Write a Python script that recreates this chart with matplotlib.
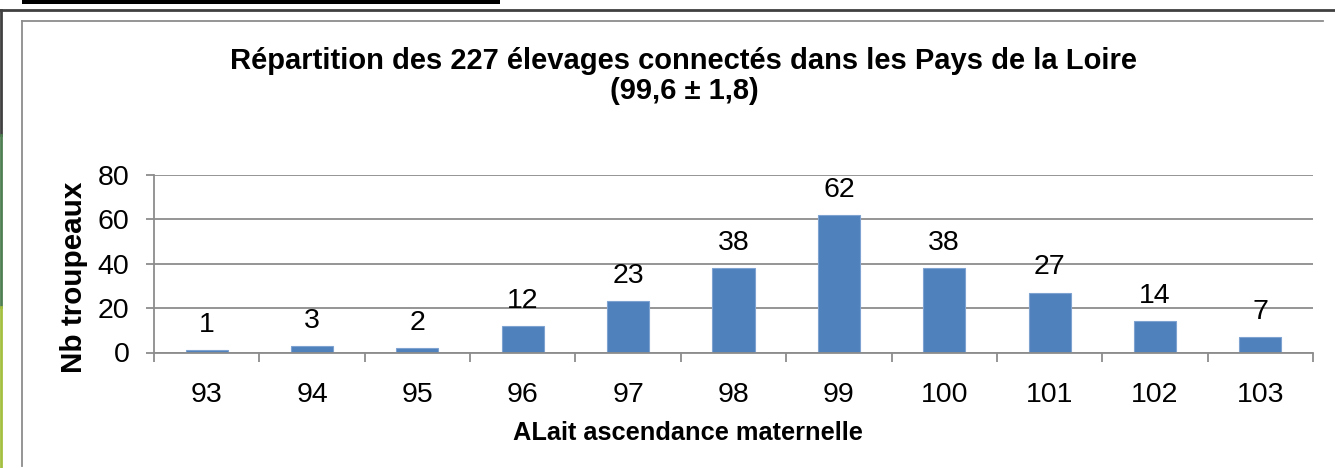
import matplotlib
matplotlib.use("Agg")
import matplotlib.pyplot as plt
from matplotlib.lines import Line2D
from matplotlib.patches import Rectangle
import numpy as np

categories = ["93", "94", "95", "96", "97", "98", "99", "100", "101", "102", "103"]
values = [1, 3, 2, 12, 23, 38, 62, 38, 27, 14, 7]
yticks = [0, 20, 40, 60, 80]
title = "Répartition des 227 élevages connectés dans les Pays de la Loire\n(99,6 ± 1,8)"
xlabel = "ALait ascendance maternelle"
ylabel = "Nb troupeaux"

plt.rcParams['font.family'] = ['Liberation Sans', 'DejaVu Sans']

W, H = 1335, 468
fig = plt.figure(figsize=(W / 100, H / 100), dpi=100)

def fx(px):
    return px / W

def fy(py):
    return 1 - py / H

# decorative frames
fig.add_artist(Rectangle((fx(22), fy(4)), fx(478), 4 / H, transform=fig.transFigure,
                         facecolor='black', edgecolor='none'))
fig.add_artist(Line2D([0, 1], [fy(10), fy(10)], transform=fig.transFigure, color='#404040', lw=2))
fig.add_artist(Line2D([fx(1), fx(1)], [fy(10), fy(135)], transform=fig.transFigure, color='#404040', lw=2))
fig.add_artist(Line2D([fx(1), fx(1)], [fy(135), fy(307)], transform=fig.transFigure, color='#4E7F52', lw=2))
fig.add_artist(Line2D([fx(1), fx(1)], [fy(307), fy(468)], transform=fig.transFigure, color='#A4C040', lw=2))
fig.add_artist(Line2D([fx(22), fx(1323)], [fy(20.5), fy(20.5)], transform=fig.transFigure, color='#8C8C8C', lw=1.3))
fig.add_artist(Line2D([fx(22), fx(22)], [fy(20.5), fy(466)], transform=fig.transFigure, color='#8C8C8C', lw=1.3))

ax = fig.add_axes([fx(154), fy(352.5), fx(1313) - fx(154), (352.5 - 175) / H])
x = np.arange(len(categories))
bars = ax.bar(x, values, width=0.4, color='#4F81BD', edgecolor='#7FA3D0', linewidth=0.8, zorder=3)
for xi, v in zip(x, values):
    ax.text(xi, v + 5.5, str(v), ha='center', va='bottom', fontsize=20.5, color='black')

ax.set_xlim(-0.5, len(categories) - 0.5)
ax.set_ylim(0, 80)
ax.set_yticks(yticks)
ax.set_yticklabels([str(t) for t in yticks], fontsize=20.5)
ax.set_xticks(np.arange(-0.5, len(categories), 1.0))
ax.set_xticklabels([])
ax.set_xticks(x, minor=True)
ax.set_xticklabels(categories, minor=True, fontsize=20.5)
ax.tick_params(axis='x', which='major', length=6.5, width=1.3, color='#8C8C8C', direction='out')
ax.tick_params(axis='x', which='minor', length=0, pad=21)
ax.tick_params(axis='y', length=5.8, width=1.3, color='#8C8C8C', direction='out', pad=12)
ax.yaxis.grid(True, color='#8C8C8C', lw=1.3, zorder=0)
ax.set_axisbelow(True)
for s in ['top', 'right']:
    ax.spines[s].set_visible(False)
for s in ['left', 'bottom']:
    ax.spines[s].set_color('#8C8C8C')
    ax.spines[s].set_linewidth(1.3)
ax.spines['bottom'].set_zorder(4)

ax.set_xlabel(xlabel, fontsize=18.3, fontweight='bold')
ax.set_ylabel(ylabel, fontsize=21.3, fontweight='bold')
ax.xaxis.set_label_coords(0.461, -0.385)
ax.yaxis.set_label_coords(-0.057, 0.425)

fig.text(fx(684), fy(76), title, ha='center', va='center', fontsize=21, fontweight='bold',
         linespacing=1.12)

fig.savefig("out.png", dpi=100)
